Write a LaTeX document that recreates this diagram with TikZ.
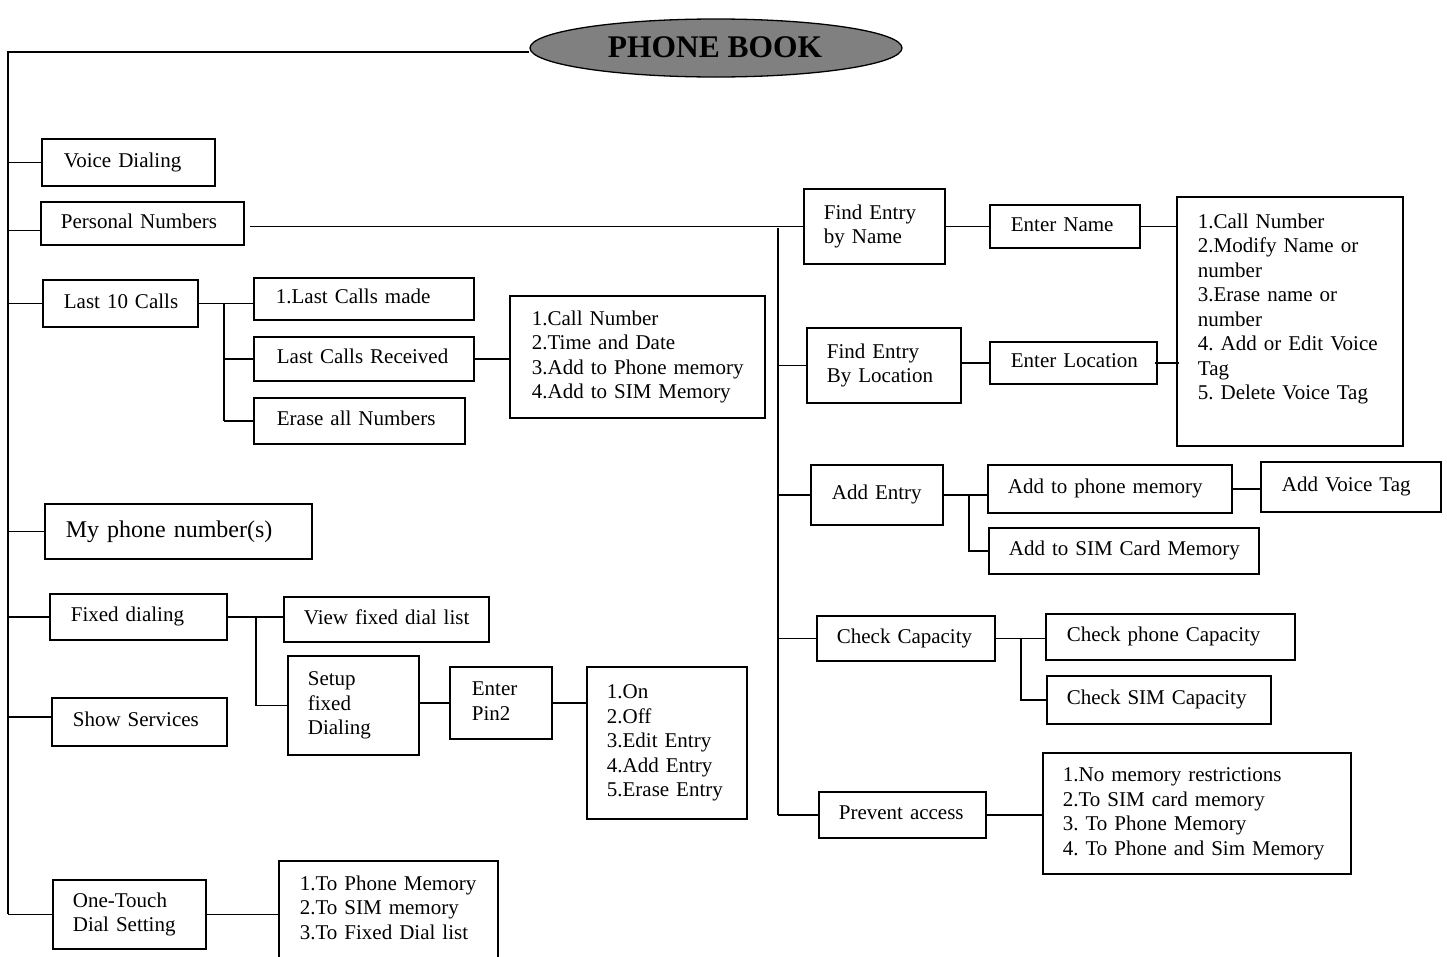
\documentclass[tikz,border=0pt]{standalone}
\usepackage{fontspec}
\setmainfont{Liberation Serif}
\frenchspacing
\usetikzlibrary{shapes.geometric,calc}
\definecolor{titlegray}{RGB}{128,128,128}
\tikzset{
  bxs/.style={draw, line width=1.7pt, rectangle, inner ysep=0pt, align=left,
    font=\fontsize{21}{24.5}\selectfont\frenchspacing},
  ln/.style={line width=1.7pt},
  title/.style={ellipse, draw, line width=1.3pt, fill=titlegray, minimum width=372pt, minimum height=58pt, inner sep=0pt},
  titletext/.style={font=\fontsize{31.5}{36}\selectfont\bfseries, inner sep=0pt}
}
% name, x1, y1, x2, y2, text-left-x, text
\newcommand\mybx[7]{%
  \pgfmathsetmacro\mypad{#6-#2}%
  \pgfmathsetmacro\mytw{max(1,#4-#2-2*(#6-#2))}%
  \pgfmathsetmacro\myh{#5-#3}%
  \node[bxs, anchor=north west, inner xsep=\mypad pt, text width=\mytw pt, minimum height=\myh pt]
    (#1) at (#2,#3) {\begin{tabular}{@{}l@{}}#7\end{tabular}};%
}
\begin{document}
\begin{tikzpicture}[x=1pt,y=-1pt]
\useasboundingbox (0,0) rectangle (1447,956);

% title
\node[title] (pb) at (716,48) {};
\node[titletext] (pbt) at (715,47) {PHONE BOOK};

% left column
\mybx{vd}{41}{138}{214}{185}{63}{Voice Dialing}
\mybx{pn}{40}{201}{243}{244}{60}{Personal Numbers}
\mybx{lt}{42}{279}{197}{326}{63}{Last 10 Calls}
\mybx{lcm}{253}{277}{473}{319}{275}{1.Last Calls made}
\mybx{lcr}{253}{336}{473}{380}{276}{Last Calls Received}
\mybx{era}{253}{397}{464}{443}{276}{Erase all Numbers}
\mybx{llist}{509}{295}{764}{417}{531}{1.Call Number\\2.Time and Date\\3.Add to Phone memory\\4.Add to SIM Memory}
\node[bxs, anchor=north west, inner xsep=21pt, text width=225pt, minimum height=55pt,
  font=\fontsize{24}{28}\selectfont] (my) at (44,503) {My phone number(s)};
\mybx{fd}{49}{593}{226}{639}{70}{Fixed dialing}
\mybx{vfd}{283}{596}{488}{641}{303}{View fixed dial list}
\mybx{set}{287}{655}{418}{754}{307}{Setup\\fixed\\Dialing}
\mybx{pin}{449}{666}{551}{738}{471}{Enter\\Pin2}
\mybx{plist}{586}{666}{746}{818}{606}{1.On\\2.Off\\3.Edit Entry\\4.Add Entry\\5.Erase Entry}
\mybx{ss}{51}{697}{226}{745}{72}{Show Services}
\mybx{ot}{52}{879}{205}{948}{72}{One-Touch\\Dial Setting}
\mybx{olist}{278}{860}{497}{958}{299}{1.To Phone Memory\\2.To SIM memory\\3.To Fixed Dial list}

% right column
\mybx{fen}{803}{188}{944}{263}{823}{Find Entry\\by Name}
\mybx{en}{989}{204}{1139}{247}{1010}{Enter Name}
\mybx{big}{1176}{196}{1402}{445}{1197}{1.Call Number\\2.Modify Name or\\number\\3.Erase name or\\number\\4. Add or Edit Voice\\Tag\\5. Delete Voice Tag\\ ~}
\mybx{fel}{806}{327}{960}{402}{826}{Find Entry\\By Location}
\mybx{el}{989}{341}{1156}{383}{1010}{Enter Location}
\mybx{ae}{810}{464}{942}{524}{831}{Add Entry}
\mybx{apm}{987}{464}{1231}{512}{1007}{Add to phone memory}
\mybx{avt}{1260}{461}{1440}{511}{1281}{Add Voice Tag}
\mybx{asim}{988}{527}{1258}{573}{1008}{Add to SIM Card Memory}
\mybx{cc}{816}{615}{994}{660}{836}{Check Capacity}
\mybx{cpc}{1045}{613}{1294}{659}{1066}{Check phone Capacity}
\mybx{csc}{1046}{675}{1270}{723}{1066}{Check SIM Capacity}
\mybx{pa}{818}{791}{985}{837}{838}{Prevent access}
\mybx{palist}{1042}{752}{1350}{873}{1062}{1.No memory restrictions\\2.To SIM card memory\\3. To Phone Memory\\4. To Phone and Sim Memory}

% main spine
\coordinate (mtop) at (8,52);
\draw[ln] (pb.west |- mtop) -- (mtop) -- (mtop |- ot.west);
\draw[ln] (mtop |- vd.west) -- (vd.west);
\draw[ln] ([yshift=-7pt]pn.west -| mtop) -- ([yshift=-7pt]pn.west);
\draw[ln] (mtop |- lt.west) -- (lt.west);
\draw[ln] (mtop |- my.west) -- (my.west);
\draw[ln] (mtop |- fd.west) -- (fd.west);
\draw[ln] ([yshift=5pt]ss.west -| mtop) -- ([yshift=5pt]ss.west);
\draw[ln] (mtop |- ot.west) -- (ot.west);

% last 10 calls
\coordinate (ltj) at ($(lt.east)+(25,0)$);
\draw[ln] (lt.east) -- (lt.east -| lcm.west);
\draw[ln] (ltj) -- (ltj |- era.west);
\draw[ln] (ltj |- lcr.west) -- (lcr.west);
\draw[ln] (ltj |- era.west) -- (era.west);
\draw[ln] (lcr.east) -- (lcr.east -| llist.west);

% fixed dialing
\coordinate (fdj) at ($(fd.east)+(28,0)$);
\draw[ln] (fd.east) -- (fd.east -| vfd.west);
\draw[ln] (fdj) -- (fdj |- set.west) -- (set.west);
\draw[ln] (pin.west -| set.east) -- (pin.west);
\draw[ln] (pin.east) -- (pin.east -| plist.west);
\draw[ln] (ot.east) -- (ot.east -| olist.west);

% personal numbers branch
\coordinate (rtop) at (778,228);
\draw[ln] ([xshift=5pt]pn.east |- fen.west) -- (fen.west);
\draw[ln] (rtop) -- (rtop |- pa.west);
\draw[ln] (rtop |- fel.west) -- (fel.west);
\draw[ln] (rtop |- ae.west) -- (ae.west);
\draw[ln] (rtop |- cc.west) -- (cc.west);
\draw[ln] (rtop |- pa.west) -- (pa.west);
\draw[ln] (fen.east) -- (fen.east -| en.west);
\draw[ln] (en.east) -- (en.east -| big.west);
\draw[ln] (el.west -| fel.east) -- (el.west);
\draw[ln] ([xshift=-3pt]el.east) -- ([xshift=3pt]el.east -| big.west);

% add entry
\coordinate (aej) at ($(ae.east)+(25,0)$);
\draw[ln] (ae.east) -- (ae.east -| apm.west);
\draw[ln] (aej) -- (aej |- asim.west) -- (asim.west);
\draw[ln] (apm.east) -- (apm.east -| avt.west);

% check capacity
\coordinate (ccj) at ($(cc.east)+(25,0)$);
\draw[ln] (cc.east) -- (cc.east -| cpc.west);
\draw[ln] (ccj) -- (ccj |- csc.west) -- (csc.west);

% prevent access
\draw[ln] (pa.east) -- (pa.east -| palist.west);
\end{tikzpicture}
\end{document}
